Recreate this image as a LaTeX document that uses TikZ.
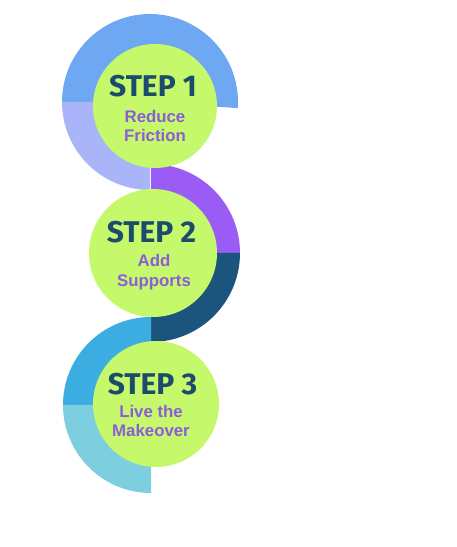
\documentclass[tikz,border=0pt]{standalone}
\usepackage{fontspec}
\usetikzlibrary{calc}
\newfontfamily\stepfont{Fira Sans}[UprightFont=*-Bold]
\newfontfamily\subfont{Liberation Sans}[UprightFont=* Bold]
\definecolor{ringA}{HTML}{6EA8F2}
\definecolor{ringB}{HTML}{A9B5F8}
\definecolor{ringC}{HTML}{9A5CF4}
\definecolor{ringD}{HTML}{1B557E}
\definecolor{ringE}{HTML}{3BADE1}
\definecolor{ringF}{HTML}{7DCEDF}
\definecolor{lime}{HTML}{C6F86C}
\definecolor{stepnavy}{HTML}{1B4C6C}
\definecolor{subpurple}{HTML}{8C5DD8}
\newcommand{\ringseg}[6]{% color, center, start, end, R, r
  \fill[#1] ($(#2)+(#3:#5)$) arc[start angle=#3, end angle=#4, radius=#5]
    -- ($(#2)+(#4:#6)$) arc[start angle=#4, end angle=#3, radius=#6] -- cycle;}
\begin{document}
\begin{tikzpicture}[
  disc/.style={circle, fill=lime, inner sep=0pt, minimum size=#1},
  steptitle/.style={text=stepnavy, font=\stepfont\fontsize{30}{30}\selectfont, anchor=base},
  subtitle/.style={text=subpurple, font=\subfont\fontsize{16.8}{19}\selectfont, align=center, anchor=base}
]
\useasboundingbox (0pt,0pt) rectangle (456pt,547pt);
\coordinate (c1) at (150pt,445pt);
\coordinate (c2) at (151pt,294pt);
\coordinate (c3) at (151pt,142pt);
% ring 1
\ringseg{ringA}{c1}{180}{-4}{88pt}{42pt}
\ringseg{ringB}{c1}{180}{270}{88pt}{42pt}
% ring 2
\ringseg{ringC}{c2}{90}{0}{89pt}{42pt}
\ringseg{ringD}{c2}{0}{-90}{89pt}{42pt}
% ring 3
\ringseg{ringE}{c3}{90}{180}{88pt}{42pt}
\ringseg{ringF}{c3}{180}{270}{88pt}{42pt}
% discs
\node[disc=124pt] (d1) at (155pt,441pt) {};
\node[disc=128pt] (d2) at (153pt,294pt) {};
\node[disc=126pt] (d3) at (156pt,143pt) {};
% texts
\node[steptitle] (t1) at (153pt,450pt) {STEP 1};
\node[subtitle] (s1) at (155pt,424pt) {Reduce};
\node[subtitle] (s1b) at (155pt,405pt) {Friction};
\node[steptitle] (t2) at (151.5pt,304pt) {STEP 2};
\node[subtitle] (s2) at (154pt,280pt) {Add};
\node[subtitle] (s2b) at (154pt,260pt) {Supports};
\node[steptitle] (t3) at (152.5pt,152pt) {STEP 3};
\node[subtitle] (s3) at (151pt,129pt) {Live the};
\node[subtitle] (s3b) at (151pt,110pt) {Makeover};
\end{tikzpicture}
\end{document}
